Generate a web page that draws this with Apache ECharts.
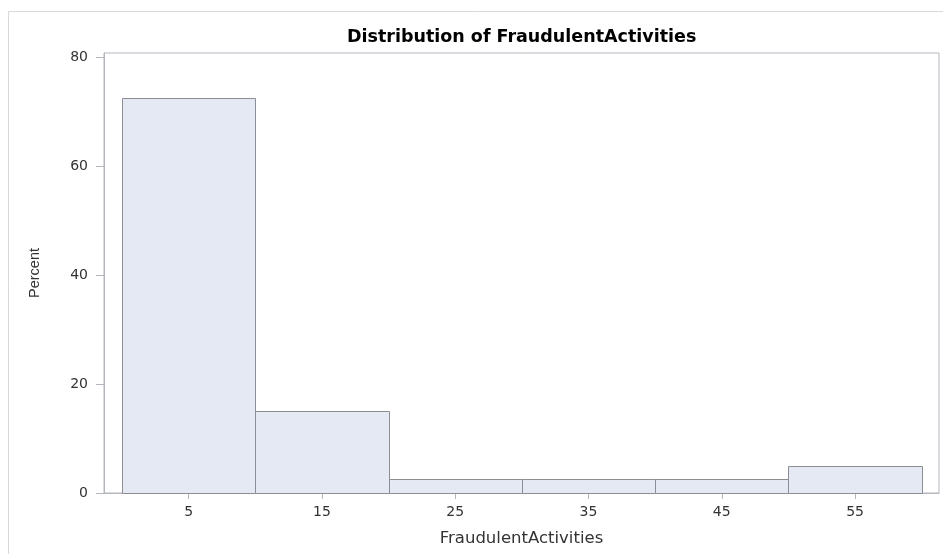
<!DOCTYPE html>
<html>
<head>
<meta charset="utf-8">
<title>Distribution of FraudulentActivities</title>
<script src="https://cdn.jsdelivr.net/npm/echarts@6/dist/echarts.min.js"></script>
<style>
  html, body { margin: 0; padding: 0; background: #fff; }
  #chart { width: 943px; height: 554px; }
</style>
</head>
<body>
<div id="chart"></div>
<script>
// histogram bins (lower / upper edges) and percent in each bin
const binStart = [0, 10, 20, 30, 40, 50];
const binEnd = [10, 20, 30, 40, 50, 60];
const percent = [72.5, 15, 2.5, 2.5, 2.5, 5];
// tick labels
const xTicks = [5, 15, 25, 35, 45, 55];
const yTicks = [0, 20, 40, 60, 80];

const chart = echarts.init(document.getElementById('chart'));

const axisGray = '#b4b7bd';
const textColor = '#333';

const option = {
  animation: false,
  title: {
    text: 'Distribution of FraudulentActivities',
    left: 342,
    top: 23,
    textStyle: {
      fontFamily: 'DejaVu Sans',
      fontWeight: 'bold',
      fontSize: 17.5,
      color: '#000'
    }
  },
  graphic: [
    {
      // light outer frame
      type: 'rect',
      shape: { x: 8.5, y: 11.5, width: 1000, height: 600 },
      style: { fill: 'none', stroke: '#d9d9d9', lineWidth: 1 },
      silent: true
    }
  ],
  grid: {
    left: 104,
    right: 4,
    top: 53,
    bottom: 61,
    show: true,
    borderColor: axisGray,
    borderWidth: 1
  },
  xAxis: {
    type: 'value',
    min: -1.35,
    max: 61.3,
    name: 'FraudulentActivities',
    nameLocation: 'middle',
    nameGap: 37,
    nameTextStyle: { fontFamily: 'DejaVu Sans', fontSize: 16.5, color: textColor },
    splitLine: { show: false },
    axisLine: { show: true, onZero: false, lineStyle: { color: axisGray } },
    axisTick: { show: true, length: 6, customValues: xTicks, lineStyle: { color: axisGray } },
    axisLabel: {
      customValues: xTicks,
      margin: 12,
      fontFamily: 'DejaVu Sans',
      fontSize: 14,
      color: textColor
    }
  },
  yAxis: {
    type: 'value',
    min: 0,
    max: 80.8,
    name: 'Percent',
    nameLocation: 'middle',
    nameRotate: 90,
    nameGap: 62,
    nameTextStyle: { fontFamily: 'Liberation Sans', fontSize: 14.5, color: textColor },
    splitLine: { show: false },
    axisLine: { show: true, onZero: false, lineStyle: { color: axisGray } },
    axisTick: { show: true, length: 8, customValues: yTicks, lineStyle: { color: axisGray } },
    axisLabel: {
      customValues: yTicks,
      margin: 16,
      fontFamily: 'DejaVu Sans',
      fontSize: 14,
      color: textColor
    }
  },
  series: [
    {
      type: 'custom',
      data: percent.map((v, i) => [binStart[i], binEnd[i], v]),
      encode: { x: [0, 1], y: 2 },
      renderItem: function (params, api) {
        const p0 = api.coord([api.value(0), api.value(2)]);
        const p1 = api.coord([api.value(1), 0]);
        return {
          type: 'rect',
          shape: {
            x: Math.round(p0[0]) + 0.5,
            y: Math.round(p0[1]) + 0.5,
            width: Math.round(p1[0]) - Math.round(p0[0]),
            height: Math.round(p1[1]) - Math.round(p0[1])
          },
          style: {
            fill: '#e5e9f3',
            stroke: '#8c8e94',
            lineWidth: 1
          }
        };
      }
    }
  ]
};

chart.setOption(option);
</script>
</body>
</html>
